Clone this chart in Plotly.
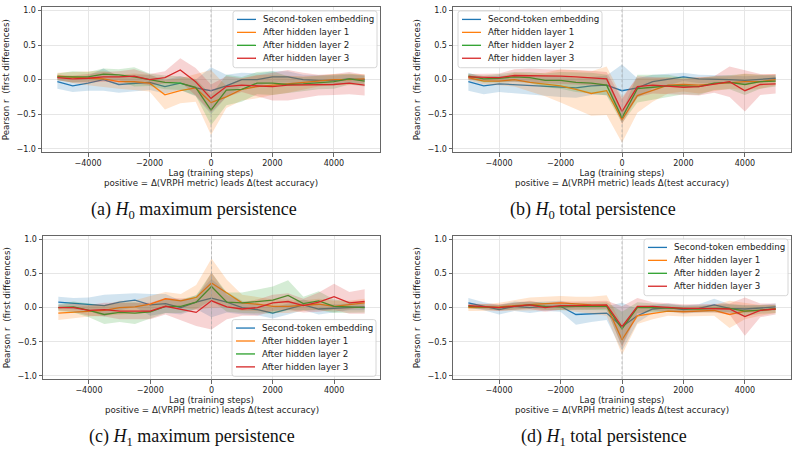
import plotly.graph_objects as go

W, H = 798, 454

lags = [-5000, -4500, -4000, -3500, -3000, -2500, -2000, -1500, -1000, -500, 0,
        500, 1000, 1500, 2000, 2500, 3000, 3500, 4000, 4500, 5000]

series_names = ["Second-token embedding", "After hidden layer 1",
                "After hidden layer 2", "After hidden layer 3"]
colors = ["#1f77b4", "#ff7f0e", "#2ca02c", "#d62728"]

x_title_1 = "Lag (training steps)"
x_title_2 = "positive = \u0394(VRPH metric) leads \u0394(test accuracy)"
y_title = "Pearson r  (first differences)"

# ---- (a) H0 maximum persistence ----
a_emb = [-0.03, -0.09, -0.05, 0.00, -0.07, -0.05, -0.04, -0.10, -0.05, -0.12, -0.16,
         -0.09, 0.00, 0.00, 0.04, 0.04, 0.00, -0.01, -0.01, 0.01, 0.00]
a_l1 = [0.05, 0.03, 0.02, 0.01, -0.03, -0.03, -0.05, -0.22, -0.16, -0.12, -0.33,
        -0.25, -0.14, -0.10, -0.08, -0.07, -0.05, -0.02, 0.00, 0.00, 0.01]
a_l2 = [0.04, 0.04, 0.04, 0.08, 0.07, 0.04, 0.00, -0.04, -0.05, -0.11, -0.44,
        -0.15, -0.14, -0.05, -0.05, -0.07, -0.06, -0.04, -0.03, 0.01, -0.02]
a_l3 = [0.03, 0.01, 0.02, 0.04, 0.04, 0.05, 0.00, 0.03, 0.14, -0.03, -0.27,
        -0.10, -0.08, -0.09, -0.10, -0.08, -0.08, -0.08, -0.07, -0.05, -0.08]
a_emb_err = [0.10, 0.09, 0.11, 0.16, 0.12, 0.12, 0.11, 0.10, 0.10, 0.12, 0.34,
             0.16, 0.10, 0.09, 0.08, 0.08, 0.07, 0.07, 0.07, 0.06, 0.06]
a_l1_err = [0.05, 0.08, 0.10, 0.12, 0.10, 0.12, 0.12, 0.21, 0.18, 0.20, 0.47,
            0.16, 0.16, 0.17, 0.14, 0.12, 0.10, 0.08, 0.08, 0.08, 0.07]
a_l2_err = [0.05, 0.08, 0.07, 0.08, 0.08, 0.14, 0.09, 0.10, 0.10, 0.12, 0.22,
            0.22, 0.18, 0.16, 0.17, 0.12, 0.10, 0.10, 0.10, 0.08, 0.08]
a_l3_err = [0.04, 0.05, 0.06, 0.07, 0.08, 0.10, 0.08, 0.09, 0.17, 0.20, 0.20,
            0.15, 0.10, 0.15, 0.20, 0.22, 0.18, 0.15, 0.15, 0.16, 0.15]

# ---- (b) H0 total persistence ----
b_emb = [-0.03, -0.09, -0.06, -0.07, -0.08, -0.09, -0.10, -0.12, -0.09, -0.08, -0.16,
         -0.12, -0.03, 0.00, 0.04, 0.01, 0.01, 0.00, -0.01, 0.01, 0.02]
b_l1 = [0.03, -0.02, -0.02, 0.00, -0.04, -0.07, -0.09, -0.14, -0.20, -0.16, -0.58,
        -0.23, -0.15, -0.08, -0.07, -0.08, -0.06, -0.04, -0.03, -0.03, 0.00]
b_l2 = [0.05, 0.01, 0.02, 0.04, 0.03, -0.01, -0.01, -0.04, -0.05, -0.08, -0.55,
        -0.13, -0.11, -0.09, -0.09, -0.10, -0.05, -0.04, -0.07, -0.03, -0.02]
b_l3 = [0.04, 0.03, 0.03, 0.06, 0.06, 0.05, 0.05, 0.04, 0.03, 0.01, -0.46,
        -0.10, -0.08, -0.09, -0.11, -0.10, -0.07, -0.03, -0.16, -0.07, -0.06]
b_emb_err = [0.13, 0.12, 0.12, 0.13, 0.14, 0.14, 0.15, 0.14, 0.13, 0.14, 0.38,
             0.14, 0.10, 0.08, 0.06, 0.06, 0.06, 0.06, 0.06, 0.05, 0.05]
b_l1_err = [0.04, 0.05, 0.06, 0.10, 0.13, 0.17, 0.24, 0.28, 0.32, 0.35, 0.33,
            0.25, 0.17, 0.12, 0.10, 0.12, 0.10, 0.09, 0.12, 0.10, 0.08]
b_l2_err = [0.04, 0.05, 0.06, 0.07, 0.08, 0.10, 0.12, 0.14, 0.15, 0.15, 0.08,
            0.20, 0.18, 0.16, 0.12, 0.12, 0.10, 0.10, 0.15, 0.10, 0.08]
b_l3_err = [0.04, 0.05, 0.06, 0.09, 0.10, 0.10, 0.10, 0.10, 0.10, 0.10, 0.18,
            0.15, 0.12, 0.12, 0.12, 0.13, 0.12, 0.22, 0.30, 0.15, 0.14]

# ---- (c) H1 maximum persistence ----
c_emb = [0.08, 0.06, 0.05, 0.03, 0.08, 0.11, 0.04, 0.06, 0.00, 0.08, 0.14,
         0.08, 0.00, -0.03, -0.08, -0.02, 0.04, -0.02, -0.01, 0.01, 0.01]
c_l1 = [-0.08, -0.07, -0.05, -0.04, 0.00, 0.01, 0.05, 0.13, 0.10, 0.15, 0.36,
        0.21, 0.07, 0.05, 0.02, 0.02, 0.03, 0.05, 0.02, 0.04, 0.07]
c_l2 = [0.00, 0.01, -0.04, -0.10, -0.07, -0.08, -0.06, 0.02, 0.02, 0.08, 0.31,
        0.08, 0.07, 0.09, 0.11, 0.18, 0.06, 0.10, 0.02, 0.01, 0.00]
c_l3 = [0.00, 0.00, -0.04, -0.03, -0.05, -0.05, -0.05, 0.02, -0.03, -0.07, 0.10,
        0.01, -0.02, 0.00, 0.07, 0.09, 0.03, 0.08, 0.16, 0.07, 0.09]
c_emb_err = [0.08, 0.08, 0.10, 0.16, 0.12, 0.10, 0.16, 0.14, 0.10, 0.10, 0.28,
             0.15, 0.10, 0.08, 0.08, 0.08, 0.08, 0.08, 0.06, 0.05, 0.05]
c_l1_err = [0.10, 0.08, 0.08, 0.08, 0.10, 0.10, 0.12, 0.10, 0.10, 0.18, 0.36,
            0.20, 0.12, 0.10, 0.10, 0.10, 0.08, 0.08, 0.08, 0.06, 0.06]
c_l2_err = [0.05, 0.08, 0.10, 0.14, 0.14, 0.16, 0.10, 0.10, 0.10, 0.10, 0.20,
            0.14, 0.15, 0.18, 0.20, 0.22, 0.10, 0.14, 0.10, 0.08, 0.07]
c_l3_err = [0.04, 0.06, 0.08, 0.10, 0.12, 0.12, 0.12, 0.12, 0.16, 0.20, 0.42,
            0.18, 0.10, 0.12, 0.12, 0.12, 0.10, 0.14, 0.19, 0.16, 0.18]

# ---- (d) H1 total persistence ----
d_emb = [0.07, 0.02, -0.03, 0.02, 0.00, 0.02, 0.02, -0.10, -0.09, -0.08, -0.28,
         -0.12, -0.02, 0.00, -0.03, -0.01, 0.04, -0.01, -0.02, -0.01, 0.01]
d_l1 = [0.00, 0.00, 0.01, 0.03, 0.05, 0.06, 0.07, 0.05, 0.04, 0.03, -0.47,
        -0.12, -0.09, -0.05, -0.06, -0.05, -0.04, -0.10, -0.05, -0.04, -0.02]
d_l2 = [0.02, 0.01, 0.00, 0.02, 0.04, 0.02, 0.01, 0.02, 0.02, 0.02, -0.31,
        0.00, 0.00, -0.01, -0.02, -0.02, -0.01, -0.01, -0.05, -0.03, -0.02]
d_l3 = [0.03, 0.01, 0.00, 0.02, 0.04, 0.00, 0.03, 0.03, 0.03, 0.04, -0.28,
        0.02, 0.02, 0.00, -0.01, -0.01, -0.01, -0.02, -0.13, -0.04, -0.02]
d_emb_err = [0.07, 0.06, 0.07, 0.07, 0.08, 0.07, 0.08, 0.15, 0.12, 0.10, 0.35,
             0.10, 0.06, 0.06, 0.06, 0.06, 0.09, 0.06, 0.06, 0.05, 0.05]
d_l1_err = [0.05, 0.05, 0.06, 0.08, 0.10, 0.10, 0.10, 0.11, 0.12, 0.15, 0.22,
            0.12, 0.08, 0.07, 0.07, 0.07, 0.08, 0.20, 0.12, 0.08, 0.06]
d_l2_err = [0.03, 0.04, 0.04, 0.05, 0.05, 0.05, 0.05, 0.05, 0.06, 0.06, 0.25,
            0.08, 0.06, 0.05, 0.05, 0.05, 0.05, 0.06, 0.08, 0.06, 0.06]
d_l3_err = [0.03, 0.04, 0.05, 0.05, 0.06, 0.06, 0.06, 0.06, 0.06, 0.06, 0.30,
            0.12, 0.06, 0.06, 0.06, 0.06, 0.06, 0.08, 0.28, 0.10, 0.08]

captions = ["(a) <i>H</i><sub>0</sub> maximum persistence",
            "(b) <i>H</i><sub>0</sub> total persistence",
            "(c) <i>H</i><sub>1</sub> maximum persistence",
            "(d) <i>H</i><sub>1</sub> total persistence"]

panels = [
    ([a_emb, a_l1, a_l2, a_l3], [a_emb_err, a_l1_err, a_l2_err, a_l3_err]),
    ([b_emb, b_l1, b_l2, b_l3], [b_emb_err, b_l1_err, b_l2_err, b_l3_err]),
    ([c_emb, c_l1, c_l2, c_l3], [c_emb_err, c_l1_err, c_l2_err, c_l3_err]),
    ([d_emb, d_l1, d_l2, d_l3], [d_emb_err, d_l1_err, d_l2_err, d_l3_err]),
]

# pixel boxes of each axes: (left, right, top, bottom)
boxes = [(42, 380, 6, 152), (453, 791, 6, 152), (43, 380, 236, 380), (453, 791, 236, 380)]
# legend box top-left corners (px)
leg_pos = [(233, 10), (458, 10), (232, 320), (644, 239)]
LEG_W, LEG_H = 144, 57
cap_pos = [(194, 210), (593, 210), (192, 438), (604, 438)]

FONT = "DejaVu Sans"
FS_TICK = 8.0
FS_LAB = 8.7
AXC = "#666666"


def px(x):
    return x / W


def py(y):
    return 1 - y / H


fig = go.Figure()
layout = dict(width=W, height=H, margin=dict(l=0, r=0, t=0, b=0),
              paper_bgcolor="white", plot_bgcolor="white",
              font=dict(family=FONT, size=FS_LAB, color="#222222"),
              showlegend=False, shapes=[], annotations=[])

for i, (means, errs) in enumerate(panels):
    ax = "" if i == 0 else str(i + 1)
    xa, ya = "x" + ax, "y" + ax
    for name, col, m, e in zip(series_names, colors, means, errs):
        lo = [v - s for v, s in zip(m, e)]
        hi = [v + s for v, s in zip(m, e)]
        r, g, b = int(col[1:3], 16), int(col[3:5], 16), int(col[5:7], 16)
        fig.add_trace(go.Scatter(x=lags, y=lo, mode="lines", line=dict(width=0, color=col),
                                 hoverinfo="skip", xaxis=xa, yaxis=ya))
        fig.add_trace(go.Scatter(x=lags, y=hi, mode="lines", line=dict(width=0, color=col),
                                 fill="tonexty", fillcolor=f"rgba({r},{g},{b},0.2)",
                                 hoverinfo="skip", xaxis=xa, yaxis=ya))
        fig.add_trace(go.Scatter(x=lags, y=m, mode="lines", name=name,
                                 line=dict(width=1.3, color=col),
                                 xaxis=xa, yaxis=ya))
    L, R, T, B = boxes[i]
    common = dict(showline=True, mirror=True, linecolor=AXC, linewidth=1,
                  ticks="outside", ticklen=3.5, tickwidth=0.8, tickcolor=AXC,
                  showgrid=True, gridcolor="#e6e6e6", gridwidth=0.8, zeroline=False,
                  tickfont=dict(family=FONT, size=FS_TICK, color="#222"))
    layout["xaxis" + ax] = dict(domain=[px(L), px(R)], range=[-5500, 5500],
                                tickvals=[-4000, -2000, 0, 2000, 4000],
                                ticktext=["\u22124000", "\u22122000", "0", "2000", "4000"],
                                anchor=ya,
                                title=dict(text=x_title_1,
                                           font=dict(family=FONT, size=FS_LAB, color="#222"), standoff=1),
                                **common)
    layout["yaxis" + ax] = dict(domain=[py(B), py(T)], range=[-1.05, 1.05],
                                tickvals=[-1.0, -0.5, 0.0, 0.5, 1.0],
                                ticktext=["\u22121.0", "\u22120.5", "0.0", "0.5", "1.0"],
                                anchor=xa,
                                title=dict(text=y_title,
                                           font=dict(family=FONT, size=FS_LAB, color="#222"), standoff=5),
                                **common)
    # second line of the x-axis label
    layout["annotations"].append(dict(text=x_title_2, xref="paper", yref="paper",
                                      x=px((L + R) / 2), y=py(B + 30.5), xanchor="center", yanchor="middle",
                                      showarrow=False,
                                      font=dict(family=FONT, size=FS_LAB, color="#222")))
    layout["shapes"].append(dict(type="line", xref=xa, yref=ya + " domain", x0=0, x1=0, y0=0, y1=1,
                                 line=dict(color="#a8a8a8", width=0.7, dash="3px,2px")))

    # legend (drawn as a box with line samples and text labels)
    lx, ly = leg_pos[i]
    rad = 2.5
    x0, x1, y0, y1 = lx, lx + LEG_W, ly, ly + LEG_H
    path = (f"M {px(x0 + rad)},{py(y0)} L {px(x1 - rad)},{py(y0)} Q {px(x1)},{py(y0)} {px(x1)},{py(y0 + rad)} "
            f"L {px(x1)},{py(y1 - rad)} Q {px(x1)},{py(y1)} {px(x1 - rad)},{py(y1)} "
            f"L {px(x0 + rad)},{py(y1)} Q {px(x0)},{py(y1)} {px(x0)},{py(y1 - rad)} "
            f"L {px(x0)},{py(y0 + rad)} Q {px(x0)},{py(y0)} {px(x0 + rad)},{py(y0)} Z")
    layout["shapes"].append(dict(type="path", xref="paper", yref="paper", path=path,
                                 fillcolor="rgba(255,255,255,0.8)",
                                 line=dict(color="#cccccc", width=0.8)))
    for k, (name, col) in enumerate(zip(series_names, colors)):
        yc = ly + 8.5 + 13 * k
        layout["shapes"].append(dict(type="line", xref="paper", yref="paper",
                                     x0=px(lx + 4), x1=px(lx + 23), y0=py(yc), y1=py(yc),
                                     line=dict(color=col, width=1.3)))
        layout["annotations"].append(dict(text=name, xref="paper", yref="paper",
                                          x=px(lx + 27.5), y=py(yc), xanchor="left", yanchor="middle",
                                          showarrow=False,
                                          font=dict(family=FONT, size=FS_LAB, color="#222")))

    cx, cy = cap_pos[i]
    layout["annotations"].append(dict(text=captions[i], xref="paper", yref="paper",
                                      x=px(cx), y=py(cy), xanchor="center", yanchor="middle",
                                      showarrow=False,
                                      font=dict(family="Liberation Serif", size=18, color="#111")))

fig.update_layout(**layout)
fig.write_html("out.html")
